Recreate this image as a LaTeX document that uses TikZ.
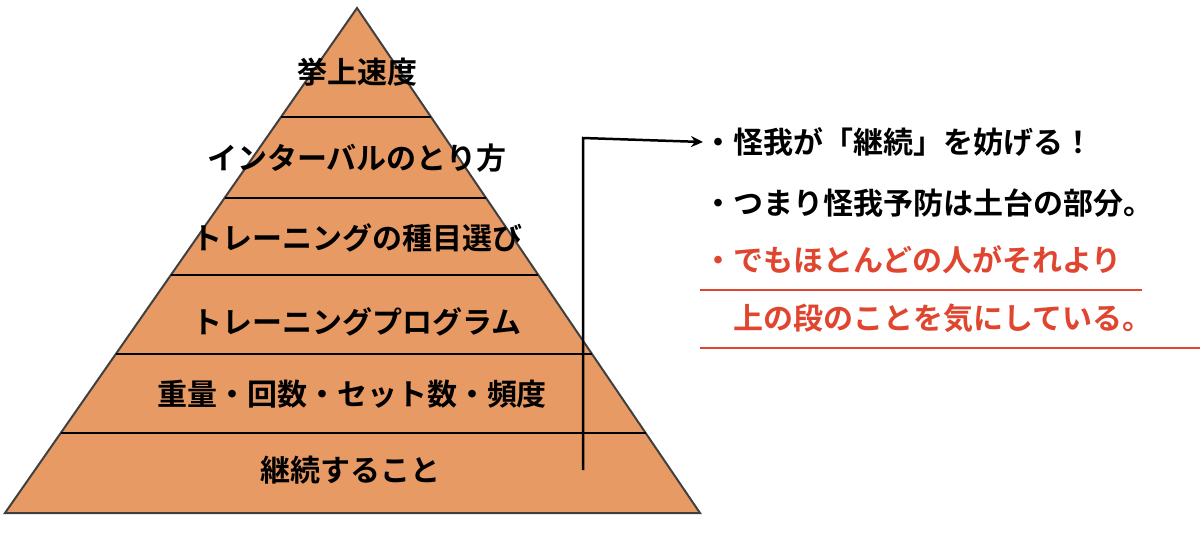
\documentclass[tikz,border=0pt]{standalone}
\usepackage{fontspec}
\newfontfamily\jp{Noto Sans CJK JP Bold}
\usetikzlibrary{calc,arrows.meta}
\definecolor{pyr}{HTML}{E89A64}
\definecolor{redt}{HTML}{E0452F}
\begin{document}
\begin{tikzpicture}[x=1pt,y=-1pt,
  lab/.style={font=\jp\fontsize{30}{30}\selectfont,inner sep=0pt,anchor=center},
  rlab/.style={font=\jp\fontsize{30}{30}\selectfont,inner sep=0pt,anchor=west},
  sep/.style={line width=2.2pt,black}]
\useasboundingbox (0,0) rectangle (1200,533);
\coordinate (apex) at (357,8);
\coordinate (bl) at (5,513);
\coordinate (br) at (700,513);
\fill[pyr,draw=black!75,line width=2pt] (apex)--(bl)--(br)--cycle;
\foreach \y/\n in {117/a,198/b,275/c,354/d,433/e}{
  \pgfmathsetmacro\t{(\y-8)/505}
  \coordinate (L\n) at ($(apex)!\t!(bl)$);
  \coordinate (R\n) at ($(apex)!\t!(br)$);
  \draw[sep] (L\n)--(R\n);
}
\node[lab] (t1) at (357,72) {挙上速度};
\node[lab] (t2) at (357,158) {インターバルのとり方};
\node[lab] (t3) at (357,238) {トレーニングの種目選び};
\node[lab] (t4) at (357,322) {トレーニングプログラム};
\node[lab] (t5) at (352,394) {重量・回数・セット数・頻度};
\node[lab] (t6) at (350,470) {継続すること};
\node[rlab] (r1) at (703,142) {・怪我が「継続」を妨げる！};
\node[rlab] (r2) at (703,203) {・つまり怪我予防は土台の部分。};
\node[rlab,text=redt] (r3) at (703,260) {・でもほとんどの人がそれより};
\node[rlab,text=redt] (r4) at (703,318) {\hspace{30pt}上の段のことを気にしている。};
\coordinate (s) at (583,470);
\coordinate (c) at (583,138);
\draw[line width=2.5pt,-{Stealth[length=12pt,width=11pt]}] (s)--(c)--(r1.west);
\draw[redt,line width=1.5pt] (700,290)--(1142,290);
\draw[redt,line width=1.5pt] (700,348)--(1200,348);
\end{tikzpicture}
\end{document}
